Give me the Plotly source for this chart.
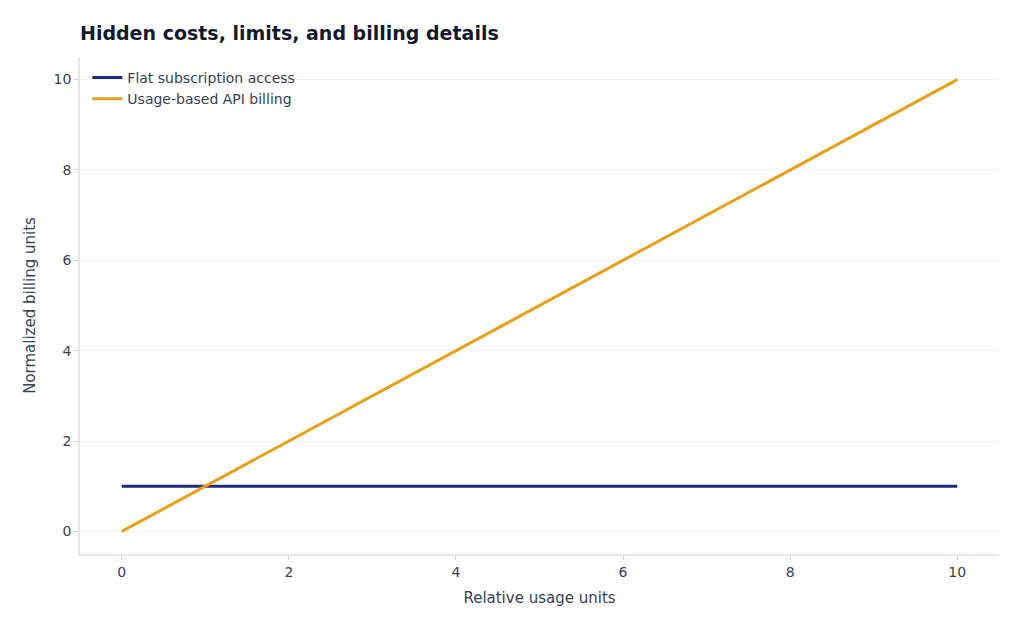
import plotly.graph_objects as go

x_vals = [0, 1, 2, 3, 4, 5, 6, 7, 8, 9, 10]
flat_vals = [1, 1, 1, 1, 1, 1, 1, 1, 1, 1, 1]
usage_vals = [0, 1, 2, 3, 4, 5, 6, 7, 8, 9, 10]
tick_vals = [0, 2, 4, 6, 8, 10]

FONT = "DejaVu Sans"
fig = go.Figure()
fig.add_trace(go.Scatter(x=x_vals, y=flat_vals, mode="lines", name="Flat subscription access",
                         line=dict(color="#1c2a80", width=3)))
fig.add_trace(go.Scatter(x=x_vals, y=usage_vals, mode="lines", name="Usage-based API billing",
                         line=dict(color="#e8a018", width=3)))

axis_common = dict(
    showline=True, linecolor="#e5e7eb", linewidth=1.5,
    ticks="outside", ticklen=4, tickcolor="#d1d5db",
    tickfont=dict(family=FONT, size=14, color="#374151"),
    zeroline=False, range=[-0.5, 10.5], tickvals=tick_vals,
)
fig.update_xaxes(**axis_common, showgrid=False,
                 title=dict(text="Relative usage units", font=dict(family=FONT, size=15, color="#374151"), standoff=14))
fig.update_yaxes(**axis_common, showgrid=True, gridcolor="#f0f1f3", gridwidth=1,
                 title=dict(text="Normalized billing units", font=dict(family=FONT, size=15, color="#374151"), standoff=14))

fig.update_layout(
    width=1024, height=631,
    paper_bgcolor="white", plot_bgcolor="white",
    margin=dict(l=80, r=25, t=57, b=77),
    title=dict(text="<b>Hidden costs, limits, and billing details</b>", x=80/1024, xanchor="left",
               y=1 - 33/631, yanchor="middle",
               font=dict(family=FONT, size=19, color="#141a2e")),
    legend=dict(x=0.008, y=0.99, xanchor="left", yanchor="top", bgcolor="rgba(255,255,255,0)",
                font=dict(family=FONT, size=14, color="#374151"), tracegroupgap=0),
    showlegend=True,
)
fig.write_html("out.html")
